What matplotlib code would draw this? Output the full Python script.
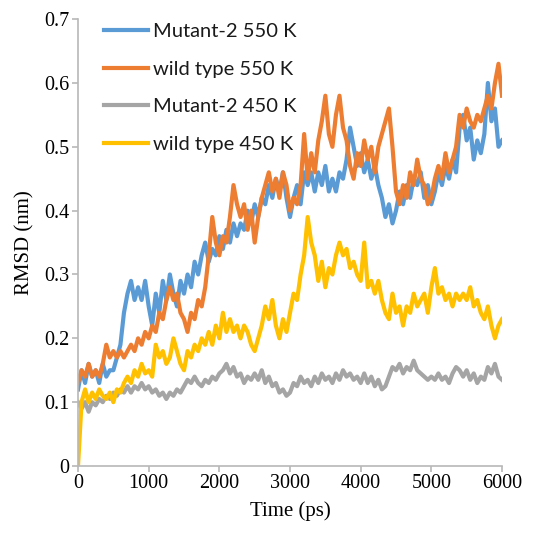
import matplotlib.pyplot as plt
import numpy as np
from matplotlib.lines import Line2D

# RMSD traces sampled every 50 ps, 0 .. 6000 ps
time_ps = np.arange(0, 6001, 50)

mutant2_550 = [
    0.12, 0.15, 0.13, 0.16, 0.14, 0.15, 0.13, 0.16, 0.14, 0.15,
    0.15, 0.17, 0.19, 0.24, 0.27, 0.29, 0.26, 0.28, 0.26, 0.29,
    0.25, 0.22, 0.27, 0.24, 0.29, 0.26, 0.30, 0.27, 0.25, 0.29,
    0.27, 0.30, 0.28, 0.32, 0.30, 0.33, 0.35, 0.32, 0.34, 0.33,
    0.36, 0.34, 0.37, 0.35, 0.38, 0.36, 0.38, 0.37, 0.40, 0.38,
    0.41, 0.39, 0.42, 0.41, 0.44, 0.42, 0.45, 0.43, 0.46, 0.42,
    0.39, 0.42, 0.44, 0.41, 0.46, 0.44, 0.46, 0.43, 0.46, 0.44,
    0.47, 0.43, 0.45, 0.43, 0.46, 0.45, 0.48, 0.53, 0.50, 0.47,
    0.49, 0.46, 0.48, 0.45, 0.47, 0.44, 0.42, 0.39, 0.41, 0.38,
    0.40, 0.43, 0.41, 0.44, 0.42, 0.45, 0.44, 0.46, 0.42, 0.44,
    0.41, 0.43, 0.46, 0.44, 0.47, 0.45, 0.48, 0.46, 0.53, 0.55,
    0.51, 0.53, 0.48, 0.51, 0.49, 0.52, 0.60, 0.54, 0.56, 0.50,
    0.51,
]

wild_550 = [
    0.13, 0.15, 0.14, 0.16, 0.14, 0.15, 0.14, 0.16, 0.19, 0.17,
    0.18, 0.17, 0.18, 0.17, 0.18, 0.19, 0.18, 0.20, 0.19, 0.21,
    0.20, 0.22, 0.21, 0.24, 0.23, 0.26, 0.28, 0.26, 0.27, 0.24,
    0.23, 0.21, 0.24, 0.23, 0.26, 0.25, 0.28, 0.33, 0.39, 0.35,
    0.33, 0.36, 0.35, 0.39, 0.44, 0.41, 0.39, 0.41, 0.37, 0.40,
    0.35, 0.39, 0.42, 0.44, 0.46, 0.43, 0.45, 0.42, 0.46, 0.44,
    0.40, 0.42, 0.41, 0.44, 0.52, 0.45, 0.49, 0.46, 0.51, 0.54,
    0.58, 0.52, 0.50, 0.55, 0.58, 0.53, 0.51, 0.47, 0.45, 0.49,
    0.47, 0.51, 0.48, 0.50, 0.46, 0.50, 0.52, 0.54, 0.56, 0.50,
    0.43, 0.41, 0.44, 0.42, 0.46, 0.44, 0.48, 0.45, 0.44, 0.41,
    0.42, 0.45, 0.47, 0.45, 0.49, 0.46, 0.48, 0.50, 0.55, 0.53,
    0.56, 0.54, 0.53, 0.55, 0.54, 0.56, 0.58, 0.56, 0.60, 0.63,
    0.58,
]

mutant2_450 = [
    0.100, 0.090, 0.100, 0.085, 0.100, 0.095, 0.105, 0.100, 0.110, 0.105,
    0.115, 0.110, 0.120, 0.115, 0.125, 0.115, 0.125, 0.120, 0.130, 0.120,
    0.125, 0.115, 0.120, 0.110, 0.115, 0.105, 0.115, 0.110, 0.120, 0.115,
    0.125, 0.135, 0.130, 0.140, 0.130, 0.125, 0.135, 0.130, 0.140, 0.135,
    0.145, 0.150, 0.160, 0.145, 0.155, 0.140, 0.145, 0.130, 0.140, 0.135,
    0.145, 0.135, 0.150, 0.130, 0.140, 0.125, 0.130, 0.115, 0.120, 0.110,
    0.115, 0.130, 0.125, 0.140, 0.130, 0.135, 0.125, 0.140, 0.130, 0.145,
    0.135, 0.140, 0.130, 0.145, 0.135, 0.150, 0.140, 0.145, 0.135, 0.140,
    0.130, 0.145, 0.130, 0.140, 0.125, 0.135, 0.120, 0.125, 0.140, 0.155,
    0.150, 0.160, 0.145, 0.155, 0.150, 0.165, 0.150, 0.145, 0.140, 0.135,
    0.140, 0.135, 0.145, 0.135, 0.140, 0.130, 0.145, 0.155, 0.150, 0.140,
    0.150, 0.135, 0.145, 0.130, 0.140, 0.135, 0.155, 0.145, 0.160, 0.140,
    0.135,
]

wild_450 = [
    0.00, 0.10, 0.12, 0.10, 0.115, 0.105, 0.12, 0.11, 0.105, 0.115,
    0.10, 0.12, 0.115, 0.13, 0.14, 0.13, 0.15, 0.14, 0.16, 0.145,
    0.15, 0.14, 0.19, 0.17, 0.18, 0.16, 0.17, 0.20, 0.18, 0.16,
    0.15, 0.18, 0.17, 0.19, 0.18, 0.20, 0.19, 0.21, 0.19, 0.22,
    0.20, 0.24, 0.21, 0.23, 0.21, 0.22, 0.20, 0.22, 0.21, 0.19,
    0.18, 0.20, 0.22, 0.25, 0.23, 0.26, 0.22, 0.20, 0.23, 0.21,
    0.24, 0.27, 0.26, 0.30, 0.33, 0.39, 0.35, 0.33, 0.29, 0.32,
    0.28, 0.31, 0.30, 0.33, 0.35, 0.33, 0.34, 0.31, 0.32, 0.30,
    0.29, 0.35, 0.28, 0.29, 0.27, 0.29, 0.26, 0.24, 0.23, 0.27,
    0.24, 0.25, 0.22, 0.25, 0.24, 0.27, 0.25, 0.26, 0.27, 0.24,
    0.28, 0.31, 0.27, 0.28, 0.26, 0.27, 0.25, 0.27, 0.26, 0.27,
    0.26, 0.28, 0.25, 0.26, 0.24, 0.23, 0.25, 0.22, 0.20, 0.22,
    0.23,
]

labels = ['Mutant-2 550 K', 'wild type 550 K', 'Mutant-2 450 K', 'wild type 450 K']
colors = ['#5B9BD5', '#ED7D31', '#A5A5A5', '#FFC000']
series = [mutant2_550, wild_550, mutant2_450, wild_450]

fig = plt.figure(figsize=(5.51, 5.46), dpi=100)
ax = fig.add_axes([0.1416, 0.1465, 0.7695, 0.8185])

for ys, c in zip(series, colors):
    ax.plot(time_ps, ys, color=c, lw=3.0, solid_joinstyle='round')

ax.set_xlim(0, 6000)
ax.set_ylim(0, 0.7)
ax.set_xticks(np.arange(0, 6001, 1000))
ax.set_yticks(np.arange(0, 0.71, 0.1))
ax.set_yticklabels(['0', '0.1', '0.2', '0.3', '0.4', '0.5', '0.6', '0.7'])

for side in ['top', 'right']:
    ax.spines[side].set_visible(False)
for side in ['left', 'bottom']:
    ax.spines[side].set_color('#b8b8b8')
    ax.spines[side].set_linewidth(1.2)
ax.tick_params(colors='#b8b8b8', length=4, width=1.2, labelcolor='black', pad=2)
for lab in ax.get_xticklabels() + ax.get_yticklabels():
    lab.set_family('Liberation Serif')
    lab.set_fontsize(14.5)

ax.set_xlabel('Time (ps)', family='Liberation Serif', fontsize=15, labelpad=6)
ax.set_ylabel('RMSD (nm)', family='Liberation Serif', fontsize=15, labelpad=7)

handles = [Line2D([0], [0], color=c, lw=3.0) for c in colors]
leg = ax.legend(handles, labels, loc='upper left', bbox_to_anchor=(0.018, 1.032),
                frameon=False, prop={'family': 'Lato', 'size': 14.5},
                handlelength=2.2, handletextpad=0.25, labelspacing=1.02)
for t in leg.get_texts():
    t.set_color('#1a1a1a')

fig.savefig('out.png', dpi=100)
